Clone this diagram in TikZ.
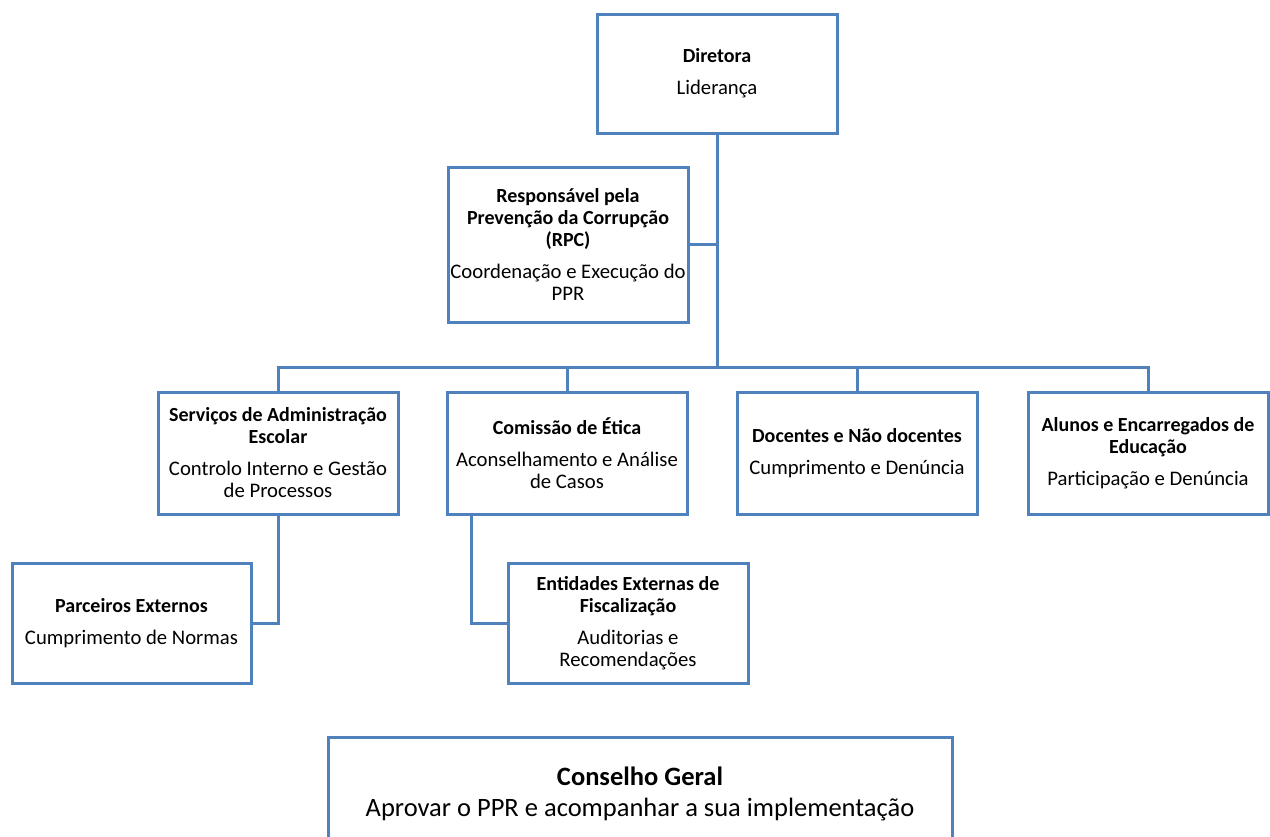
\documentclass[tikz,border=0pt]{standalone}
\usepackage{fontspec}
\setmainfont{Carlito}
\definecolor{ob}{RGB}{79,129,189}
\newcommand{\bodyfont}{\fontsize{20.7}{23}\selectfont}
\begin{document}
\begin{tikzpicture}[x=1pt,y=-1pt,
  box/.style={draw=ob,line width=3pt,fill=white,rectangle,inner sep=0pt,align=center,
    minimum width=240pt,font=\fontsize{20}{22}\selectfont},
  conn/.style={draw=ob,line width=3pt}]
\clip (0,0) rectangle (1270,836);
\useasboundingbox (0,0) rectangle (1270,836);
\node[box,minimum height=119pt] (dir) at (717,73.5)
  {\textbf{Diretora}\\[10pt]{\bodyfont Liderança}};
\node[box,minimum height=155pt] (rpc) at (568,244.5)
  {\textbf{Responsável pela}\\\textbf{Prevenção da Corrupção}\\\textbf{(RPC)}\\[10pt]{\bodyfont Coordenação e Execução do}\\{\bodyfont PPR}};
\node[box,minimum height=122pt] (sae) at (278,453)
  {\textbf{Serviços de Administração}\\\textbf{Escolar}\\[10pt]{\bodyfont Controlo Interno e Gestão}\\{\bodyfont de Processos}};
\node[box,minimum height=122pt] (cet) at (567,453)
  {\textbf{Comissão de Ética}\\[10pt]{\bodyfont Aconselhamento e Análise}\\{\bodyfont de Casos}};
\node[box,minimum height=122pt] (doc) at (857,453)
  {\textbf{Docentes e Não docentes}\\[10pt]{\bodyfont Cumprimento e Denúncia}};
\node[box,minimum height=122pt] (alu) at (1148,453)
  {\textbf{Alunos e Encarregados de}\\\textbf{Educação}\\[10pt]{\bodyfont Participação e Denúncia}};
\node[box,minimum width=239pt,minimum height=120pt] (par) at (131.5,623)
  {\textbf{Parceiros Externos}\\[10pt]{\bodyfont Cumprimento de Normas}};
\node[box,minimum height=120pt] (ent) at (628,623)
  {\textbf{Entidades Externas de}\\\textbf{Fiscalização}\\[10pt]{\bodyfont Auditorias e}\\{\bodyfont Recomendações}};
\node[box,minimum width=624pt,minimum height=113pt,font=\fontsize{26.5}{31}\selectfont] (cg) at (640,793.5)
  {\textbf{Conselho Geral}\\Aprovar o PPR e acompanhar a sua implementação};
\coordinate (bus) at (716,367);
\draw[conn] (dir.south) -- (dir.south |- bus);
\draw[conn] (rpc.east) -- (rpc.east -| dir.south);
\draw[conn] (sae.north) |- (bus) -| (alu.north);
\draw[conn] (cet.north) -- (cet.north |- bus);
\draw[conn] (doc.north) -- (doc.north |- bus);
\draw[conn] (sae.south) |- (par.east);
\draw[conn] ([xshift=26pt]cet.south west) |- (ent.west);
\end{tikzpicture}
\end{document}
